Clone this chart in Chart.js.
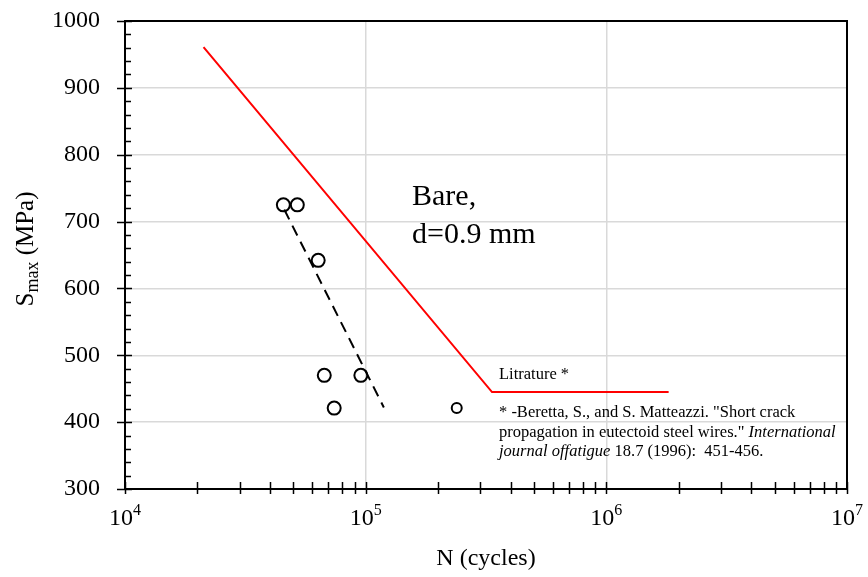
<!DOCTYPE html>
<html>
<head>
<meta charset="utf-8">
<script src="https://cdn.jsdelivr.net/npm/chart.js@4.4.1/dist/chart.umd.min.js"></script>
<style>
  html, body { margin: 0; padding: 0; background: #fff; }
  #wrap { width: 868px; height: 577px; }
</style>
</head>
<body>
<div id="wrap"><canvas id="sn-chart"></canvas></div>
<script>
// Experimental points (N cycles, Smax MPa)
const testCycles = [45500, 52000, 63500, 67300, 95500, 74000, 239000];
const testStress = [725, 725, 642, 470, 470, 421, 421];

// Dashed trend line through the tests
const trendCycles = [45900, 119000];
const trendStress = [718, 422];

// Literature curve (Beretta & Matteazzi)
const litCycles = [21200, 335000, 1815000];
const litStress = [961, 445, 445];

// Axis ticks
const decadeExponents = [4, 5, 6, 7];
const stressTicks = [300, 400, 500, 600, 700, 800, 900, 1000];

const SERIF = '"Liberation Serif", "Times New Roman", serif';

function toPoints(xs, ys) {
    return xs.map(function(x, i) { return { x: x, y: ys[i] }; });
}

// draw a list of text runs one after another: [text, font, dy]
function drawRuns(ctx, runs, x, y) {
    let cx = x;
    runs.forEach(function(r) {
        ctx.font = r[1];
        ctx.fillText(r[0], cx, y + (r[2] || 0));
        cx += ctx.measureText(r[0]).width;
    });
}

function runsWidth(ctx, runs) {
    let w = 0;
    runs.forEach(function(r) {
        ctx.font = r[1];
        w += ctx.measureText(r[0]).width;
    });
    return w;
}

const axesPlugin = {
    id: 'axesPlugin',
    afterDatasetsDraw: function(chart) {
        const ctx = chart.ctx;
        const area = chart.chartArea;
        const xs = chart.scales.x;
        const ys = chart.scales.y;
        ctx.save();

        // frame
        ctx.strokeStyle = '#000';
        ctx.lineWidth = 2;
        ctx.strokeRect(area.left, area.top, area.right - area.left, area.bottom - area.top);

        // y ticks: major every 100, minor every 20
        ctx.lineWidth = 1.5;
        ctx.beginPath();
        for (let v = stressTicks[0]; v <= stressTicks[stressTicks.length - 1]; v += 20) {
            const py = Math.round(ys.getPixelForValue(v)) + 0.5;
            if (v % 100 === 0) {
                ctx.moveTo(area.left - 8, py);
                ctx.lineTo(area.left + 7, py);
            } else {
                ctx.moveTo(area.left, py);
                ctx.lineTo(area.left + 6, py);
            }
        }
        // x ticks at every 1..9 x 10^n
        for (let e = decadeExponents[0]; e < decadeExponents[decadeExponents.length - 1]; e++) {
            for (let m = 1; m <= 9; m++) {
                const px = Math.round(xs.getPixelForValue(m * Math.pow(10, e))) + 0.5;
                ctx.moveTo(px, area.bottom - 7);
                ctx.lineTo(px, area.bottom + 5);
            }
        }
        const lastX = Math.round(xs.getPixelForValue(Math.pow(10, decadeExponents[decadeExponents.length - 1]))) + 0.5;
        ctx.moveTo(lastX, area.bottom - 7);
        ctx.lineTo(lastX, area.bottom + 5);
        ctx.stroke();

        ctx.fillStyle = '#000';
        ctx.textBaseline = 'alphabetic';
        ctx.textAlign = 'left';

        // x tick labels 10^n
        decadeExponents.forEach(function(e) {
            const px = xs.getPixelForValue(Math.pow(10, e));
            const runs = [['10', '24px ' + SERIF, 0], [String(e), '16px ' + SERIF, -10]];
            const w = runsWidth(ctx, runs);
            drawRuns(ctx, runs, px - w / 2, area.bottom + 36);
        });

        // x axis title
        ctx.font = '24px ' + SERIF;
        ctx.textAlign = 'center';
        ctx.fillText('N (cycles)', (area.left + area.right) / 2, 565);
        ctx.textAlign = 'left';

        // y axis title, rotated
        ctx.save();
        ctx.translate(33, 249);
        ctx.rotate(-Math.PI / 2);
        const yRuns = [['S', '25px ' + SERIF, 0], ['max', '18px ' + SERIF, 5], [' (MPa)', '25px ' + SERIF, 0]];
        drawRuns(ctx, yRuns, -runsWidth(ctx, yRuns) / 2, 0);
        ctx.restore();

        // annotations
        ctx.font = '30px ' + SERIF;
        ctx.fillText('Bare,', area.left + 287, area.top + 184);
        ctx.fillText('d=0.9 mm', area.left + 287, area.top + 222);

        ctx.font = '16.5px ' + SERIF;
        ctx.fillText('Litrature *', area.left + 374, area.top + 358);

        const it = 'italic 16.5px ' + SERIF;
        const rm = '16.5px ' + SERIF;
        drawRuns(ctx, [['* -Beretta, S., and S. Matteazzi. "Short crack', rm]], area.left + 374, area.top + 396);
        drawRuns(ctx, [['propagation in eutectoid steel wires." ', rm], ['International', it]], area.left + 374, area.top + 416);
        drawRuns(ctx, [['journal offatigue', it], [' 18.7 (1996):  451-456.', rm]], area.left + 374, area.top + 435);

        ctx.restore();
    }
};

new Chart(document.getElementById('sn-chart'), {
    type: 'scatter',
    data: {
        datasets: [
            {
                label: 'Literature',
                data: toPoints(litCycles, litStress),
                showLine: true,
                borderColor: '#ff0000',
                borderWidth: 2,
                pointRadius: 0,
                fill: false
            },
            {
                label: 'Trend',
                data: toPoints(trendCycles, trendStress),
                showLine: true,
                borderColor: '#000',
                borderWidth: 2,
                borderDash: [11, 7],
                pointRadius: 0,
                fill: false
            },
            {
                label: 'Tests',
                data: toPoints(testCycles, testStress),
                showLine: false,
                pointStyle: 'circle',
                pointRadius: [6.5, 6.5, 6.5, 6.5, 6.5, 6.5, 5],
                pointBorderWidth: 2,
                pointBorderColor: '#000',
                pointBackgroundColor: 'rgba(255,255,255,0)'
            }
        ]
    },
    options: {
        responsive: true,
        maintainAspectRatio: false,
        animation: false,
        layout: { padding: { top: 21, right: 21, left: 0, bottom: 0 } },
        plugins: {
            legend: { display: false },
            tooltip: { enabled: false }
        },
        scales: {
            x: {
                type: 'logarithmic',
                min: 1e4,
                max: 1e7,
                border: { display: false },
                ticks: { display: false },
                grid: {
                    drawTicks: false,
                    lineWidth: 1.5,
                    color: function(c) {
                        const v = c.tick ? c.tick.value : 0;
                        return (v === 1e5 || v === 1e6) ? '#d9d9d9' : 'rgba(0,0,0,0)';
                    }
                },
                afterFit: function(s) {
                    s.height = 88;
                    s.paddingLeft = 0;
                    s.paddingRight = 0;
                }
            },
            y: {
                type: 'linear',
                min: stressTicks[0],
                max: stressTicks[stressTicks.length - 1],
                border: { display: false },
                afterBuildTicks: function(s) {
                    s.ticks = stressTicks.map(function(v) { return { value: v }; });
                },
                ticks: {
                    autoSkip: false,
                    padding: 25,
                    color: '#000',
                    font: { family: SERIF, size: 24 },
                    callback: function(v) { return String(v); }
                },
                grid: {
                    drawTicks: false,
                    lineWidth: 1.5,
                    color: function(c) {
                        const v = c.tick ? c.tick.value : 0;
                        return (v === stressTicks[0] || v === stressTicks[stressTicks.length - 1]) ? 'rgba(0,0,0,0)' : '#d9d9d9';
                    }
                },
                afterFit: function(s) {
                    s.width = 125;
                    s.paddingTop = 0;
                    s.paddingBottom = 0;
                }
            }
        }
    },
    plugins: [axesPlugin]
});
</script>
</body>
</html>
